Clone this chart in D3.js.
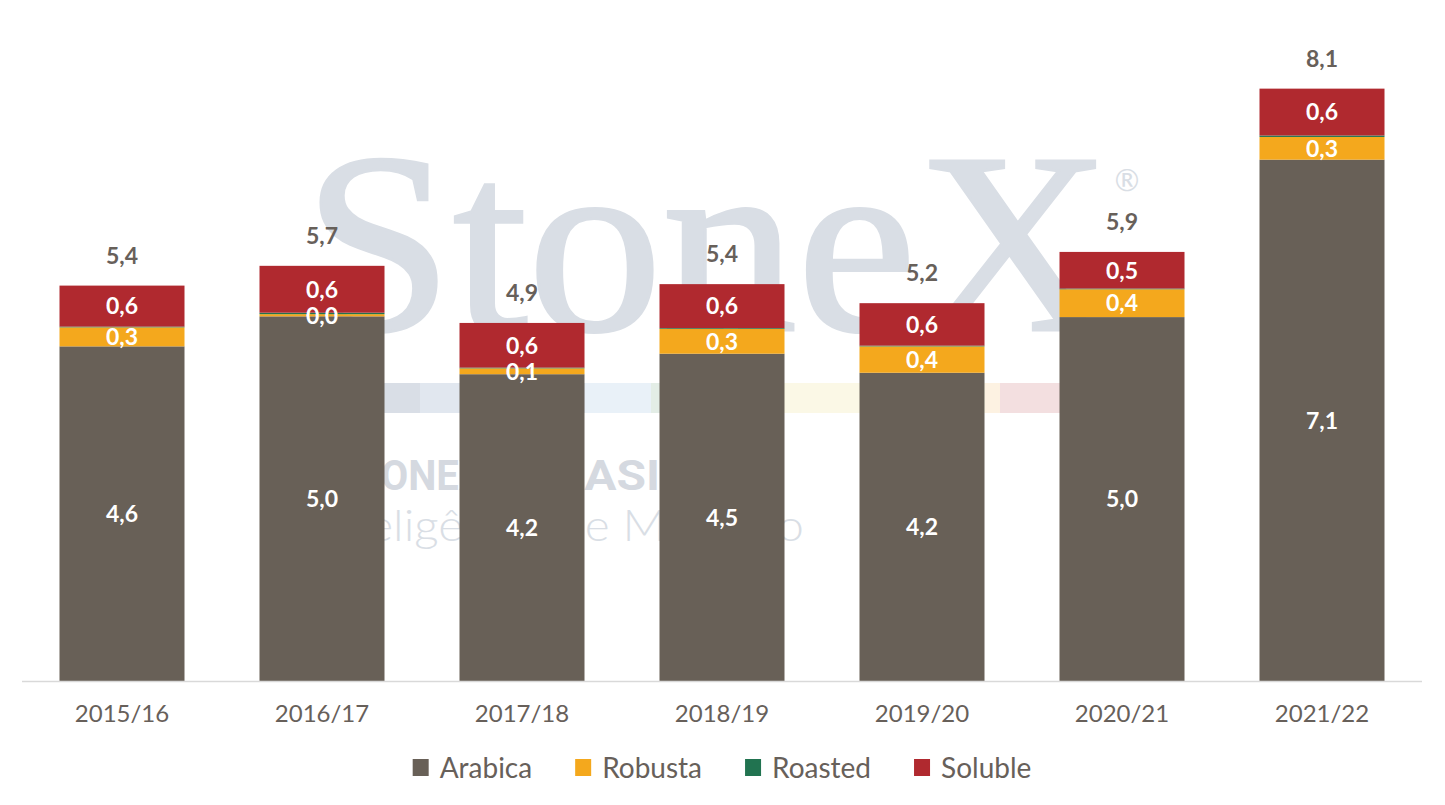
<!DOCTYPE html>
<html>
<head>
<meta charset="utf-8">
<script src="https://cdn.jsdelivr.net/npm/d3@7"></script>
<style>
  body { margin: 0; background: #fff; }
  svg { display: block; }
</style>
</head>
<body>
<script>
const width = 1445;
const height = 805;

// data (million bags)
const seasons = ["2015/16", "2016/17", "2017/18", "2018/19", "2019/20", "2020/21", "2021/22"];
const arabica = [4.57, 4.98, 4.19, 4.47, 4.21, 4.97, 7.12];
const robusta = [0.26, 0.03, 0.08, 0.34, 0.36, 0.38, 0.31];
const roasted = [0.01, 0.02, 0.01, 0.01, 0.01, 0.01, 0.02];
const soluble = [0.56, 0.64, 0.61, 0.60, 0.58, 0.50, 0.64];

const seriesNames = ["Arabica", "Robusta", "Roasted", "Soluble"];
const colors = ["#686057", "#f4a81d", "#217350", "#b0292f"];
const showLabel = [true, true, false, true];

const rows = seasons.map((s, i) => ({
  season: s,
  Arabica: arabica[i],
  Robusta: robusta[i],
  Roasted: roasted[i],
  Soluble: soluble[i]
}));

const locale = d3.formatLocale({ decimal: ",", thousands: ".", grouping: [3], currency: ["", ""] });
const fmt = locale.format(".1f");

const margin = { top: 22, right: 23, bottom: 124, left: 22 };

const x = d3.scaleBand()
  .domain(seasons)
  .range([margin.left, width - margin.right])
  .paddingInner(0.375)
  .paddingOuter(0.1875);

const y = d3.scaleLinear()
  .domain([0, 9])
  .range([height - margin.bottom, margin.top]);

const stack = d3.stack().keys(seriesNames)(rows);

const svg = d3.select("body")
  .append("svg")
  .attr("width", width)
  .attr("height", height)
  .attr("font-family", "Lato, 'Noto Sans', sans-serif");

// watermark
const wm = svg.append("g").attr("class", "watermark");

const stripColors = [
  [340, 420, "#d9dee6"],
  [420, 585, "#e1e7ef"],
  [585, 651, "#e9f1f8"],
  [651, 720, "#e3ede6"],
  [720, 985, "#fbf8e6"],
  [985, 1000, "#fdf2e2"],
  [1000, 1062, "#f3dfe0"]
];
wm.selectAll("rect")
  .data(stripColors)
  .join("rect")
  .attr("x", (d) => d[0])
  .attr("width", (d) => d[1] - d[0])
  .attr("y", 383)
  .attr("height", 30)
  .attr("fill", (d) => d[2]);

wm.append("text")
  .attr("x", 303)
  .attr("y", 330)
  .attr("font-family", "'Liberation Serif', 'DejaVu Serif', serif")
  .attr("font-size", 258)
  .attr("textLength", 808)
  .attr("lengthAdjust", "spacingAndGlyphs")
  .attr("fill", "#d9dee5")
  .attr("stroke", "#d9dee5")
  .attr("stroke-width", 3)
  .text("StoneX");

wm.append("text")
  .attr("x", 1127)
  .attr("y", 191)
  .attr("text-anchor", "middle")
  .attr("font-size", 30)
  .attr("fill", "#d9dee5")
  .text("®");

const brand = wm.append("g")
  .attr("font-family", "Roboto, sans-serif")
  .attr("font-weight", 700)
  .attr("font-size", 42)
  .attr("fill", "#d5d9e0");
brand.append("text")
  .attr("x", 332)
  .attr("y", 490)
  .attr("textLength", 152)
  .attr("lengthAdjust", "spacingAndGlyphs")
  .text("STONEX");
brand.append("text")
  .attr("x", 523)
  .attr("y", 490)
  .attr("textLength", 163)
  .attr("lengthAdjust", "spacingAndGlyphs")
  .text("BRASIL");

wm.append("text")
  .attr("x", 314)
  .attr("y", 541)
  .attr("font-family", "Lato, sans-serif")
  .attr("font-weight", 300)
  .attr("font-size", 44)
  .attr("textLength", 490)
  .attr("lengthAdjust", "spacingAndGlyphs")
  .attr("fill", "#d9dee5")
  .text("Inteligência de Mercado");

// bars
const layers = svg.append("g")
  .selectAll("g")
  .data(stack)
  .join("g")
  .attr("fill", (d, i) => colors[i]);

layers.selectAll("rect")
  .data((d) => d)
  .join("rect")
  .attr("x", (d) => x(d.data.season))
  .attr("width", x.bandwidth())
  .attr("y", (d) => y(d[1]))
  .attr("height", (d) => y(d[0]) - y(d[1]));

// axis line + tick labels
svg.append("line")
  .attr("x1", margin.left)
  .attr("x2", width - margin.right)
  .attr("y1", y(0) + 0.5)
  .attr("y2", y(0) + 0.5)
  .attr("stroke", "#d9d9d9")
  .attr("stroke-width", 1.5);

const xAxis = svg.append("g")
  .attr("transform", `translate(0,${y(0)})`)
  .call(d3.axisBottom(x).tickSize(0).tickPadding(24));
xAxis.select(".domain").remove();
xAxis.selectAll("text")
  .attr("font-family", "Lato, 'Noto Sans', sans-serif")
  .attr("font-size", 24)
  .attr("fill", "#67605a");

// segment labels
const labels = svg.append("g")
  .attr("fill", "#fff")
  .attr("font-weight", 700)
  .attr("font-size", 23)
  .attr("text-anchor", "middle");

stack.forEach((layer, i) => {
  if (!showLabel[i]) return;
  labels.append("g")
    .selectAll("text")
    .data(layer)
    .join("text")
    .attr("x", (d) => x(d.data.season) + x.bandwidth() / 2)
    .attr("y", (d) => (y(d[0]) + y(d[1])) / 2)
    .attr("dy", "0.36em")
    .text((d) => fmt(d[1] - d[0]));
});

// totals
const totals = rows.map((r) => seriesNames.reduce((s, k) => s + r[k], 0));
svg.append("g")
  .attr("fill", "#67605a")
  .attr("font-weight", 700)
  .attr("font-size", 23)
  .attr("text-anchor", "middle")
  .selectAll("text")
  .data(rows)
  .join("text")
  .attr("x", (d) => x(d.season) + x.bandwidth() / 2)
  .attr("y", (d, i) => y(totals[i]) - 30)
  .attr("dy", "0.36em")
  .text((d, i) => fmt(totals[i]));

// legend
const legend = svg.append("g").attr("font-size", 28).attr("fill", "#67605a");
const gap = 43;
let lx = 0;
seriesNames.forEach((name, i) => {
  const g = legend.append("g");
  g.append("rect")
    .attr("x", 0)
    .attr("y", -9)
    .attr("width", 16)
    .attr("height", 17)
    .attr("fill", colors[i]);
  const t = g.append("text")
    .attr("x", 27)
    .attr("dy", "0.36em")
    .text(name);
  const w = 27 + t.node().getComputedTextLength();
  g.attr("transform", `translate(${lx},0)`);
  lx += w + gap;
});
const legendWidth = lx - gap;
legend.attr("transform", `translate(${(margin.left + width - margin.right) / 2 - legendWidth / 2},768)`);
</script>
</body>
</html>
